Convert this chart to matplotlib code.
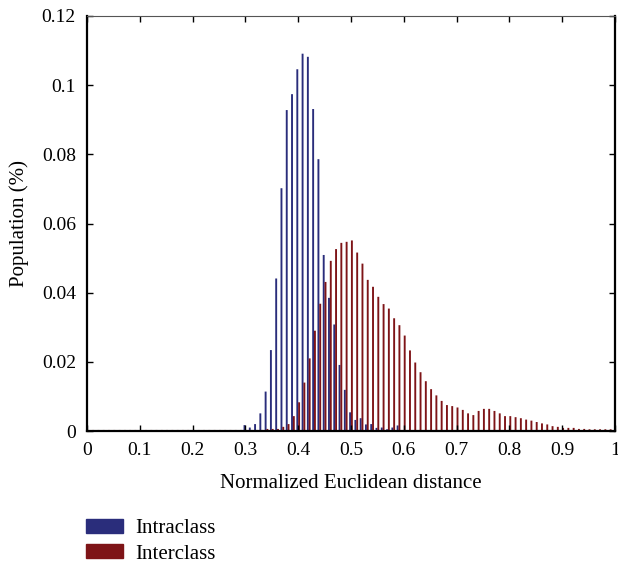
import numpy as np
import matplotlib
matplotlib.use('Agg')
import matplotlib.pyplot as plt
from matplotlib.patches import Patch

# bin centres of the normalized distance histogram (0.00 .. 1.00 step 0.01)
bins = np.round(np.arange(101) * 0.01, 2)

# intraclass population (%)
intra = [0, 0, 0, 0, 0, 0, 0, 0, 0, 0,
         0, 0, 0, 0, 0, 0, 0, 0, 0, 0,
         0, 0, 0, 0, 0, 0, 0, 0, 0, 0,
         0.0017, 0.0010, 0.0020, 0.0051, 0.0114, 0.0234, 0.0441, 0.0702, 0.0928, 0.0974,
         0.1046, 0.1091, 0.1082, 0.0931, 0.0786, 0.0509, 0.0385, 0.0308, 0.0191, 0.0119,
         0.0054, 0.0032, 0.0037, 0.0019, 0.0020, 0.0009, 0.0010, 0.0005, 0.0010, 0.0016,
         0, 0, 0, 0, 0, 0, 0, 0, 0, 0,
         0, 0, 0, 0, 0, 0, 0, 0, 0, 0,
         0, 0, 0, 0, 0, 0, 0, 0, 0, 0,
         0, 0, 0, 0, 0, 0, 0, 0, 0, 0,
         0]

# interclass population (%)
inter = [0.0003, 0.0003, 0.0003, 0.0003, 0.0003, 0.0003, 0.0003, 0.0003, 0.0003, 0.0003,
         0.0003, 0.0003, 0.0003, 0.0003, 0.0003, 0.0003, 0.0003, 0.0003, 0.0003, 0.0003,
         0.0003, 0.0003, 0.0003, 0.0003, 0.0003, 0.0003, 0.0003, 0.0003, 0.0003, 0.0003,
         0.0003, 0.0003, 0.0003, 0.0003, 0.0006, 0.0006, 0.0006, 0.0012, 0.0020, 0.0043,
         0.0083, 0.0140, 0.0210, 0.0290, 0.0368, 0.0431, 0.0492, 0.0526, 0.0544, 0.0547,
         0.0551, 0.0516, 0.0484, 0.0437, 0.0417, 0.0388, 0.0367, 0.0354, 0.0326, 0.0306,
         0.0276, 0.0233, 0.0198, 0.0170, 0.0144, 0.0121, 0.0103, 0.0087, 0.0075, 0.0072,
         0.0068, 0.0061, 0.0051, 0.0046, 0.0058, 0.0064, 0.0064, 0.0058, 0.0051, 0.0043,
         0.0043, 0.0040, 0.0037, 0.0033, 0.0030, 0.0026, 0.0022, 0.0019, 0.0014, 0.0012,
         0.0009, 0.0009, 0.0009, 0.0006, 0.0006, 0.0005, 0.0005, 0.0005, 0.0005, 0.0005,
         0.0004]

xticks = [0, 0.1, 0.2, 0.3, 0.4, 0.5, 0.6, 0.7, 0.8, 0.9, 1]
xticklabels = ['0', '0.1', '0.2', '0.3', '0.4', '0.5', '0.6', '0.7', '0.8', '0.9', '1']
yticks = [0, 0.02, 0.04, 0.06, 0.08, 0.1, 0.12]
yticklabels = ['0', '0.02', '0.04', '0.06', '0.08', '0.1', '0.12']

blue = '#2a2d7b'
red = '#7e1417'

plt.rcParams['font.family'] = ['Liberation Serif', 'DejaVu Serif']
plt.rcParams['font.size'] = 14

fig = plt.figure(figsize=(6.18, 5.65), dpi=100)
ax = fig.add_axes([87/618, 1-431/565, (615-87)/618, (431-16)/565])

w = 0.0036
ax.bar(bins - 0.0017, intra, width=w, color=blue, linewidth=0, snap=False)
ax.bar(bins + 0.0017, inter, width=w, color=red, linewidth=0, snap=False)

ax.set_xlim(0, 1)
ax.set_ylim(0, 0.12)
ax.set_xticks(xticks)
ax.set_xticklabels(xticklabels)
ax.set_yticks(yticks)
ax.set_yticklabels(yticklabels)
ax.tick_params(direction='in', length=4, width=1, top=True, right=True, pad=8)
for s in ['left', 'bottom', 'right']:
    ax.spines[s].set_linewidth(1.6)
ax.spines['top'].set_linewidth(0.8)
ax.spines['top'].set_color('#555555')

ax.set_xlabel('Normalized Euclidean distance', fontsize=15, labelpad=11)
ax.set_ylabel('Population (%)', fontsize=15, labelpad=9)

handles = [Patch(color=blue), Patch(color=red)]
fig.legend(handles, ['Intraclass', 'Interclass'], loc='upper left',
           bbox_to_anchor=(82/618, 1-515/565), frameon=False, fontsize=15,
           handlelength=1.75, handleheight=0.65, handletextpad=0.6,
           labelspacing=0.28, borderaxespad=0, borderpad=0.2)

fig.savefig('out.png', dpi=100)
